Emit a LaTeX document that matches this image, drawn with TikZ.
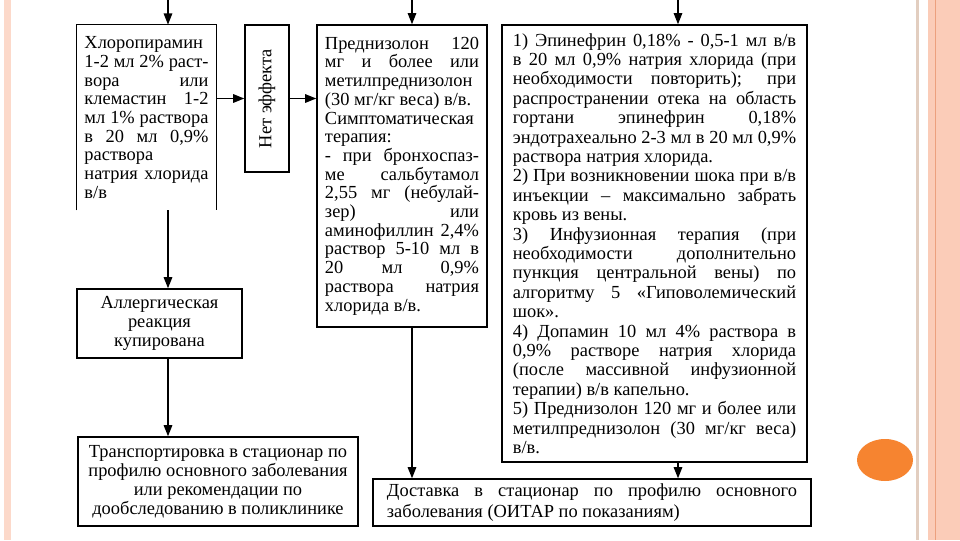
\documentclass[tikz,border=0pt]{standalone}
\usepackage{fontspec}
\setmainfont{Liberation Serif}
\usetikzlibrary{arrows.meta,positioning}
\hyphenpenalty=10000
\exhyphenpenalty=10000
\definecolor{salmon}{RGB}{251,204,184}
\definecolor{salmonline}{RGB}{236,160,126}
\definecolor{tanline}{RGB}{226,206,192}
\definecolor{dotorange}{RGB}{246,132,48}

\begin{document}
\begin{tikzpicture}[x=0.025cm,y=-0.025cm,>={Triangle[length=8pt,width=6pt]},
    textbox/.style={inner ysep=0pt,font=\fontsize{13.1}{13.3}\selectfont},
    box/.style={textbox,draw,line width=0.9pt},
    flow/.style={->,line width=1.2pt}]
        % slide frame
        \useasboundingbox (0,0) rectangle (960,540);
        \fill[white] (0,0) rectangle (960,540);
        \fill[salmon!75] (4,0) rectangle (11,540);
        \fill[tanline] (916,0) rectangle (919,540);
        \fill[salmon] (928,0) rectangle (960,540);
        \draw[salmonline,line width=0.6pt] (935.5,0) -- (935.5,540);
        \fill[dotorange] (885,460) ellipse [x radius=28,y radius=21];

        % left column
        \node[textbox,align=justify,text width=3.1cm,inner xsep=0.19cm,
              minimum width=3.475cm,minimum height=4.625cm] (chloro)
              at (146.5,117.5)
              {Хлоропирамин\newline
               1-2 мл 2\% раст-\linebreak
               вора или\linebreak
               клемастин 1-2\linebreak
               мл 1\% раствора\linebreak
               в 20 мл 0,9\%\linebreak
               раствора\newline
               натрия хлорида\linebreak
               в/в};
        \draw[line width=0.9pt] (chloro.south west) -- (chloro.north west)
              -- (chloro.north east) -- (chloro.south east);
        \node[box,minimum width=1.1cm,minimum height=3.675cm] (noeff)
              at (267,98.5) {};
        \node[textbox,rotate=90] (noefftext) at (noeff.center) {Нет эффекта};
        \node[box,align=center,minimum width=4.125cm,
              minimum height=1.725cm] (allergy) at (159.5,323.5)
              {Аллергическая\\реакция\\купирована};
        \node[box,align=center,minimum width=7cm,minimum height=2.225cm,
              font=\fontsize{13.1}{13.5}\selectfont] (transport)
              at (218,481.5)
              {Транспортировка в стационар по\\профилю основного заболевания\\
               или рекомендации по\\дообследованию в поликлинике};

        % middle column
        \node[box,align=justify,text width=3.85cm,inner xsep=0.2cm,
              minimum height=7.55cm] (pred) at (402,176)
              {Преднизолон 120\linebreak
               мг и более или\linebreak
               метилпреднизолон\newline
               (30 мг/кг веса) в/в.\newline
               Симптоматическая\newline
               терапия:\newline
               - при бронхоспаз-\linebreak
               ме сальбутамол\linebreak
               2,55 мг (небулай-\linebreak
               зер) или\linebreak
               аминофиллин 2,4\%\linebreak
               раствор 5-10 мл в\linebreak
               20 мл 0,9\%\linebreak
               раствора натрия\linebreak
               хлорида в/в.};

        % right column
        \node[box,align=justify,text width=7.08cm,inner xsep=0.2725cm,
              minimum height=10.925cm,
              font=\fontsize{13.1}{13.8}\selectfont] (epi) at (654.5,243.5)
              {1) Эпинефрин 0,18\% - 0,5-1 мл в/в\linebreak
               в 20 мл 0,9\% натрия хлорида (при\linebreak
               необходимости повторить); при\linebreak
               распространении отека на область\linebreak
               гортани эпинефрин 0,18\%\linebreak
               эндотрахеально 2-3 мл в 20 мл 0,9\%\linebreak
               раствора натрия хлорида.\newline
               2) При возникновении шока при в/в\linebreak
               инъекции – максимально забрать\linebreak
               кровь из вены.\newline
               3) Инфузионная терапия (при\linebreak
               необходимости дополнительно\linebreak
               пункция центральной вены) по\linebreak
               алгоритму 5 «Гиповолемический\linebreak
               шок».\newline
               4) Допамин 10 мл 4\% раствора в\linebreak
               0,9\% растворе натрия хлорида\linebreak
               (после массивной инфузионной\linebreak
               терапии) в/в капельно.\newline
               5) Преднизолон 120 мг и более или\linebreak
               метилпреднизолон (30 мг/кг веса)\linebreak
               в/в.};
        \node[box,align=justify,text width=10.25cm,inner xsep=0.35cm,
              minimum height=1.175cm,
              font=\fontsize{13.1}{14.9}\selectfont] (delivery)
              at (592,502.5)
              {Доставка в стационар по профилю основного\linebreak
               заболевания (ОИТАР по показаниям)};

        \coordinate (inleft) at (168,0);
        \coordinate (inmid) at (412,0);
        \coordinate (inright) at (678,0);
        \draw[flow] (inleft) -- (inleft |- chloro.north);
        \draw[flow] (inleft |- chloro.south) -- (inleft |- allergy.north);
        \draw[flow] (inleft |- allergy.south) -- (inleft |- transport.north);
        \draw[flow] (chloro.east |- noeff.west) -- (noeff.west);
        \draw[flow] (noeff.east) -- (noeff.east -| pred.west);
        \draw[flow] (inmid) -- (inmid |- pred.north);
        \draw[flow] (inmid |- pred.south) -- (inmid |- delivery.north);
        \draw[flow] (inright) -- (inright |- epi.north);
        \draw[flow] (inright |- epi.south) -- (inright |- delivery.north);
    \end{tikzpicture}
\end{document}
